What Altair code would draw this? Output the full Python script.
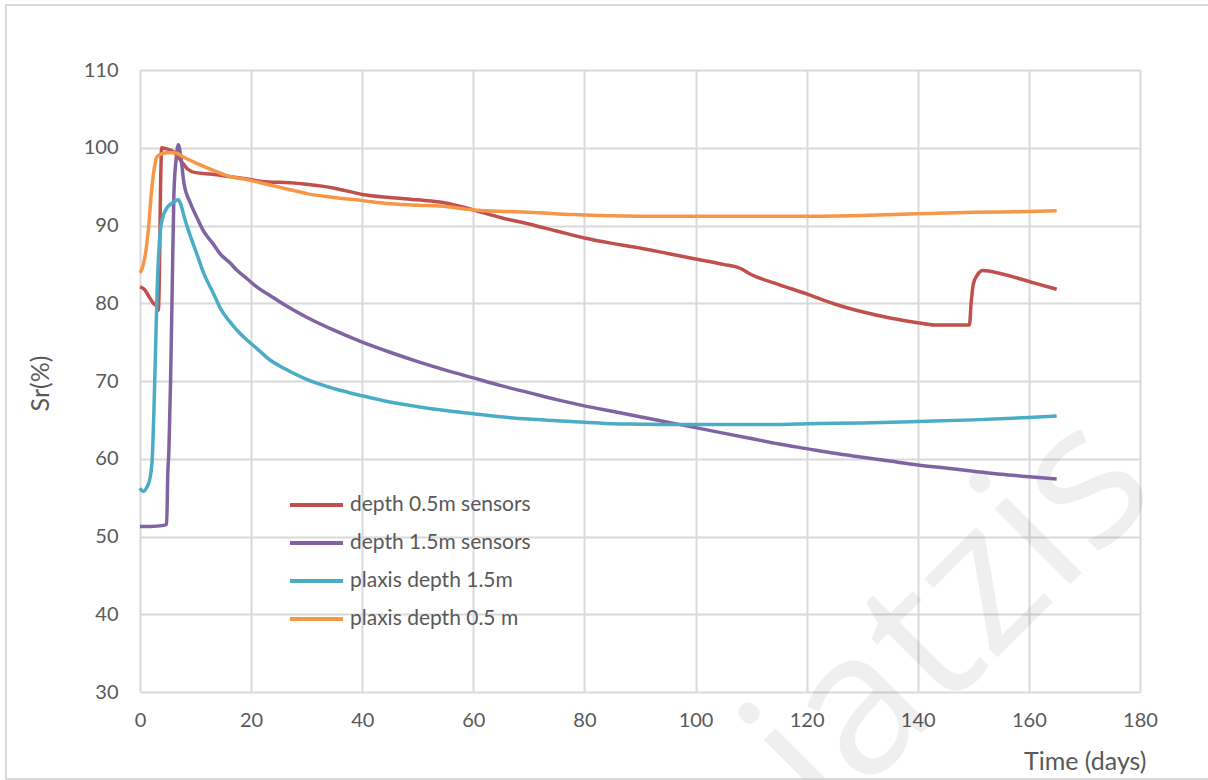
import altair as alt
import pandas as pd

# Measured degree of saturation Sr (%) versus time (days)
series_names = [
    "depth 0.5m sensors",
    "depth 1.5m sensors",
    "plaxis depth  1.5m",
    "plaxis depth 0.5 m",
]
series_colors = ["#C0504D", "#8064A2", "#4BACC6", "#F79646"]

red_days = [0, 0.9, 1.5, 2.4, 3.0, 3.3, 3.5, 3.7, 3.9, 4.5, 5.5, 6.5, 7.5, 8.5, 10,
            13, 16, 19, 23, 27, 30, 35, 40, 45, 50, 55, 60, 65, 70, 75, 80, 85, 90,
            95, 100, 105, 108, 110, 115, 120, 125, 130, 135, 140, 143, 146, 149.3,
            149.6, 150, 150.7, 151.7, 155, 160, 165]
red_vals = [82.1, 81.7, 81.0, 80.0, 79.6, 79.1, 84.0, 95.0, 100.0, 99.9, 99.7, 99.2,
            98.2, 97.3, 96.8, 96.6, 96.3, 96.0, 95.6, 95.5, 95.3, 94.8, 94.0, 93.6,
            93.3, 92.9, 92.0, 91.0, 90.2, 89.3, 88.4, 87.7, 87.1, 86.4, 85.7, 85.0,
            84.5, 83.7, 82.4, 81.2, 79.9, 78.9, 78.1, 77.5, 77.2, 77.2, 77.2, 80.0,
            82.5, 83.6, 84.2, 83.8, 82.8, 81.8]

purple_days = [0, 2, 4, 4.8, 5.0, 5.2, 5.5, 5.8, 6.1, 6.5, 6.9, 7.4, 7.9, 9, 10.2,
               11.5, 13.1, 14.5, 16.2, 17.5, 19.2, 21, 23.4, 26, 30, 35, 40, 45, 50,
               55, 60, 65, 70, 75, 80, 85, 90, 95, 100, 105, 110, 115, 120, 125, 130,
               135, 140, 145, 150, 155, 160, 165]
purple_vals = [51.3, 51.3, 51.4, 51.6, 58.0, 61.0, 70.0, 82.0, 94.0, 98.5, 100.4, 98.5,
               95.5, 93.0, 91.1, 89.2, 87.7, 86.3, 85.2, 84.2, 83.2, 82.1, 81.0, 79.8,
               78.2, 76.5, 75.0, 73.7, 72.5, 71.4, 70.4, 69.4, 68.5, 67.6, 66.8, 66.1,
               65.4, 64.7, 64.0, 63.3, 62.6, 61.9, 61.3, 60.7, 60.2, 59.7, 59.2, 58.8,
               58.4, 58.0, 57.7, 57.4]

cyan_days = [0, 0.6, 1.2, 1.8, 2.2, 2.5, 2.8, 3.1, 3.5, 4.0, 4.8, 5.8, 6.9, 7.3, 8.0,
             8.7, 10.2, 11.5, 13.2, 14.5, 16.2, 17.5, 19.2, 21, 23.4, 26, 30, 35, 40,
             45, 50, 55, 60, 65, 70, 75, 80, 85, 90, 95, 100, 110, 115, 120, 130, 140,
             150, 160, 165]
cyan_vals = [56.2, 55.8, 56.3, 57.5, 60.0, 66.0, 74.0, 82.0, 88.0, 90.8, 92.2, 92.9,
             93.3, 92.8, 91.0, 89.4, 86.4, 83.8, 81.3, 79.3, 77.6, 76.5, 75.3, 74.2,
             72.7, 71.6, 70.2, 69.0, 68.1, 67.3, 66.7, 66.2, 65.8, 65.4, 65.1, 64.9,
             64.7, 64.5, 64.45, 64.4, 64.4, 64.4, 64.4, 64.5, 64.6, 64.8, 65.0, 65.3,
             65.5]

orange_days = [0, 0.4, 0.9, 1.5, 2.1, 2.6, 3.0, 4.2, 5.5, 6.6, 7.8, 10.2, 13.2, 16.2,
               19.2, 23.4, 27, 30, 35, 40, 45, 50, 54, 60, 66, 70, 78, 90, 100, 110,
               120, 130, 140, 150, 160, 165]
orange_vals = [83.9, 84.5, 86.0, 89.4, 94.6, 97.5, 98.8, 99.3, 99.4, 99.3, 98.8, 98.0,
               97.1, 96.3, 95.9, 95.2, 94.6, 94.1, 93.6, 93.2, 92.8, 92.6, 92.5, 92.0,
               91.8, 91.7, 91.4, 91.2, 91.2, 91.2, 91.2, 91.3, 91.5, 91.7, 91.8, 91.9]

x_ticks = list(range(0, 181, 20))
y_ticks = list(range(30, 111, 10))

TEXT = "#595959"
GRID = "#D9D9D9"
FONT = "Lato"

frames = []
for name, days, vals in zip(
    series_names,
    [red_days, purple_days, cyan_days, orange_days],
    [red_vals, purple_vals, cyan_vals, orange_vals],
):
    frames.append(pd.DataFrame({"day": days, "sr": vals, "series": name}))
data = pd.concat(frames, ignore_index=True)
data["order"] = data["series"].map({n: i for i, n in enumerate(series_names)})

color_scale = alt.Scale(domain=series_names, range=series_colors)

lines = alt.Chart(data).mark_line(strokeWidth=3.5, interpolate="monotone").encode(
    x=alt.X(
        "day:Q",
        scale=alt.Scale(domain=[0, 180], nice=False),
        axis=alt.Axis(
            values=x_ticks, title="Time (days)", titleAnchor="end", titleAlign="right",
            titleX=1006, titleY=77, titleBaseline="alphabetic", labelPadding=18,
            labelFlush=False,
        ),
    ),
    y=alt.Y(
        "sr:Q",
        scale=alt.Scale(domain=[30, 110], nice=False),
        axis=alt.Axis(
            values=y_ticks, title="Sr(%)", titleX=-100, titleY=313,
            titleAngle=270, titleBaseline="middle", titleAlign="center",
            labelPadding=22, labelFlush=False,
        ),
    ),
    color=alt.Color("series:N", scale=color_scale, legend=None),
    order=alt.Order("order:Q"),
    detail="series:N",
)

# Faint diagonal watermark behind the plot
one = pd.DataFrame({"k": [0]})
watermark = alt.Chart(one).mark_text(
    text="iatzis", font="Open Sans", fontSize=200, angle=315,
    color="#000000", opacity=0.06, align="center", baseline="middle",
).encode(x=alt.value(812), y=alt.value(548))

# Outer frame around the whole chart
frame = alt.Chart(one).mark_rect(
    fill=None, fillOpacity=0, stroke=GRID, strokeWidth=2,
).encode(x=alt.value(-134), x2=alt.value(1072), y=alt.value(-65), y2=alt.value(709))

# Hand-placed legend inside the plot area
legend_layers = []
for i, (name, col) in enumerate(zip(series_names, series_colors)):
    ypos = 435 + i * 38
    legend_layers.append(
        alt.Chart(one).mark_rule(color=col, strokeWidth=4).encode(
            x=alt.value(150), x2=alt.value(203), y=alt.value(ypos)
        )
    )
    legend_layers.append(
        alt.Chart(one).mark_text(
            text=name, font=FONT, fontSize=21, color=TEXT, align="left",
            baseline="middle",
        ).encode(x=alt.value(210), y=alt.value(ypos))
    )

chart = alt.layer(watermark, frame, lines, *legend_layers).properties(
    width=1000,
    height=622,
    autosize=alt.AutoSizeParams(type="none"),
    padding={"left": 140, "top": 70, "right": 68, "bottom": 88},
    background="white",
).configure_view(stroke=None).configure_axis(
    grid=True, gridColor=GRID, gridWidth=2, domain=False, ticks=False, tickSize=0,
    labelFont=FONT, labelFontSize=20, labelColor=TEXT,
    titleFont=FONT, titleFontSize=25, titleColor=TEXT, titleFontWeight="normal",
)

chart.save("out.html", embed_options={"renderer": "svg", "actions": False})
